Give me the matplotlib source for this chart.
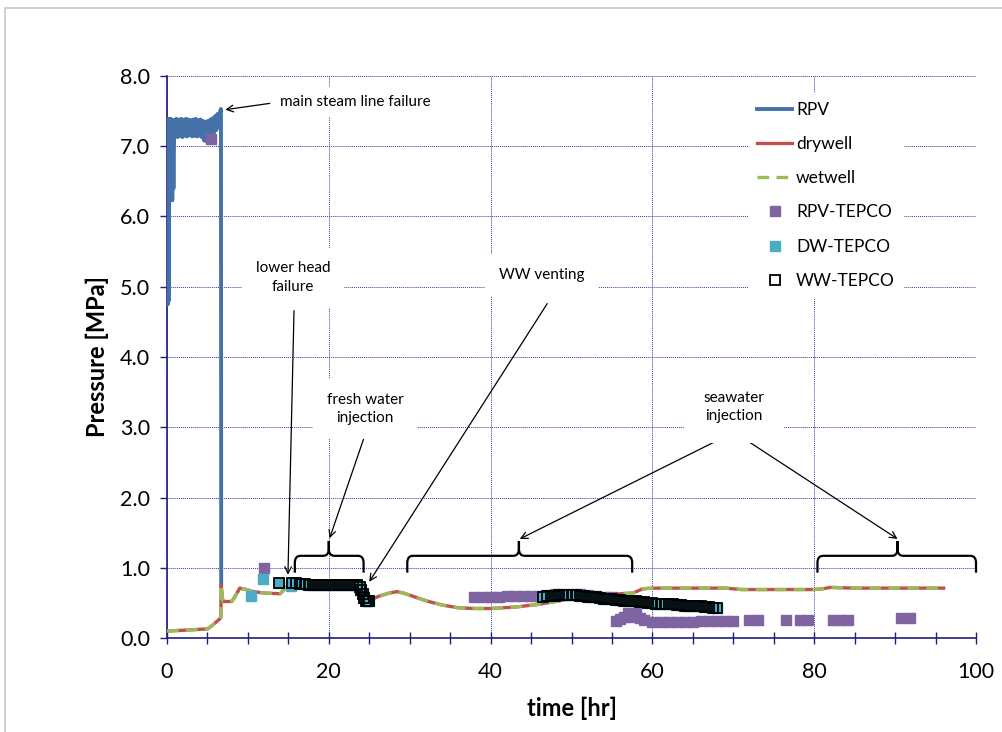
import matplotlib
matplotlib.use('Agg')
import matplotlib.pyplot as plt
from matplotlib.path import Path
from matplotlib.patches import PathPatch, Rectangle
from matplotlib.ticker import MultipleLocator, FormatStrFormatter

plt.rcParams['font.family'] = ['Lato', 'DejaVu Sans']

# ---- values ----
# RPV pressure (MELCOR run), time in hr, pressure in MPa
rpv_t = [0.05, 0.10, 0.15, 0.20, 0.25, 0.30, 0.40, 0.50, 0.60, 0.65, 0.70, 0.80, 0.90,
         1.00, 1.15, 1.30, 1.45, 1.60, 1.75, 1.90, 2.05, 2.20, 2.35, 2.50, 2.65,
         2.80, 2.95, 3.10, 3.25, 3.40, 3.55, 3.70, 3.85, 4.00, 4.15, 4.30, 4.45,
         4.60, 4.75, 4.90, 5.05, 5.20, 5.35, 5.50, 5.65, 5.80, 5.95, 6.10, 6.25,
         6.40, 6.55, 6.67, 6.70]
rpv_p = [7.32, 4.75, 7.39, 4.80, 7.38, 7.14, 7.39, 7.14, 7.38, 6.23, 7.32, 6.40, 7.37,
         7.14, 7.39, 7.13, 7.38, 7.15, 7.39, 7.13, 7.38, 7.15, 7.39, 7.14, 7.38,
         7.16, 7.37, 7.14, 7.38, 7.15, 7.39, 7.14, 7.37, 7.15, 7.38, 7.13, 7.36,
         7.08, 7.35, 7.07, 7.36, 7.14, 7.38, 7.16, 7.40, 7.19, 7.43, 7.23, 7.46,
         7.28, 7.49, 7.53, 0.76]

# drywell / wetwell pressure (they lie on top of each other)
dw_t = [0, 2, 5.0, 5.5, 6.0, 6.5, 6.65, 6.7, 6.9, 8.0, 8.4, 9.0, 9.8, 10.7, 12,
        14.0, 14.6, 15.2, 16, 18, 20, 22, 23.8, 24.2, 24.6, 25.1, 26.3, 27.5,
        28.4, 29.2, 30.0, 32, 34, 36, 38, 40, 43, 46, 48, 50, 52, 54, 56, 57.6,
        58.2, 58.8, 60, 65, 69, 70, 71, 75, 80, 81, 82, 85, 90, 96]
dw_p = [0.10, 0.11, 0.13, 0.17, 0.22, 0.27, 0.29, 0.75, 0.52, 0.52, 0.59, 0.71,
        0.69, 0.66, 0.64, 0.63, 0.71, 0.77, 0.77, 0.76, 0.76, 0.75, 0.75, 0.70,
        0.60, 0.54, 0.60, 0.64, 0.66, 0.64, 0.61, 0.53, 0.47, 0.43, 0.42, 0.42,
        0.44, 0.48, 0.52, 0.56, 0.59, 0.61, 0.63, 0.64, 0.67, 0.70, 0.71, 0.71,
        0.71, 0.70, 0.69, 0.69, 0.69, 0.70, 0.72, 0.71, 0.71, 0.71]
ww_t = list(dw_t)
ww_p = list(dw_p)

# TEPCO measurements
rpv_tepco_t = [5.4, 12.0,
               38, 39, 40, 41, 42, 43, 44, 45, 46, 47, 48, 49, 50, 51, 52, 53, 54, 55,
               55.5, 56, 56.5, 57, 57.5, 58, 58.5, 59, 60, 61, 62, 63, 64, 65, 66,
               67, 68, 69, 70, 72.0, 73.0, 76.5, 78.3, 79.2, 82.3, 83.3, 84.2,
               90.7, 91.8]
rpv_tepco_p = [7.11, 1.00,
               0.59, 0.59, 0.59, 0.59, 0.60, 0.60, 0.60, 0.60, 0.60, 0.61, 0.62,
               0.62, 0.62, 0.62, 0.61, 0.60, 0.59, 0.58,
               0.24, 0.27, 0.30, 0.35, 0.30, 0.35, 0.28, 0.25, 0.23, 0.23, 0.23,
               0.23, 0.23, 0.23, 0.24, 0.24, 0.24, 0.24, 0.24, 0.25, 0.25, 0.26,
               0.25, 0.25, 0.26, 0.26, 0.26, 0.28, 0.28]

ww_tepco_t = [13.8,
              15.5, 16.0, 16.5, 17.0, 17.5, 18.0, 18.5, 19.0, 19.5, 20.0, 20.5,
              21.0, 21.5, 22.0, 22.5, 23.0, 23.5, 23.8, 24.0, 24.2, 24.4, 24.6,
              24.8, 25.0,
              46.5, 47, 47.5, 48, 48.5, 49, 49.5, 50, 50.5, 51, 51.5, 52, 52.5,
              53, 53.5, 54, 54.5, 55, 55.5, 56, 56.5, 57, 57.5, 58, 58.5, 59,
              59.5, 60, 60.5, 61, 61.5, 62, 62.5, 63, 63.5, 64, 64.5, 65, 65.5,
              66, 66.5, 67, 67.5, 68]
ww_tepco_p = [0.78,
              0.79, 0.78, 0.77, 0.77, 0.76, 0.76, 0.75, 0.75, 0.75, 0.75, 0.75,
              0.75, 0.75, 0.75, 0.75, 0.75, 0.75, 0.73, 0.69, 0.63, 0.57, 0.53,
              0.52, 0.52,
              0.59, 0.60, 0.60, 0.60, 0.61, 0.61, 0.61, 0.61, 0.61, 0.60, 0.60,
              0.59, 0.58, 0.58, 0.57, 0.56, 0.56, 0.55, 0.54, 0.54, 0.53, 0.53,
              0.52, 0.52, 0.51, 0.51, 0.50, 0.50, 0.49, 0.49, 0.48, 0.48, 0.48,
              0.47, 0.47, 0.46, 0.46, 0.45, 0.45, 0.45, 0.44, 0.44, 0.43, 0.43]

# DW-TEPCO: two early points, the rest coincide with the WW readings
dw_tepco_t = [10.4, 11.9, 15.3] + ww_tepco_t
dw_tepco_p = [0.60, 0.84, 0.74] + ww_tepco_p

# curly braces marking injection periods: (start, end, tip)
brace_spans = [(15.8, 24.3, 20.0), (29.7, 57.5, 43.5), (80.4, 100.0, 90.3)]

NAVY = '#1f1f7a'

fig = plt.figure(figsize=(10.03, 7.32), dpi=100)
ax = fig.add_axes([0.1665, 0.1284, 0.8066, 0.7678])

ax.plot(rpv_t, rpv_p, color='#4472a8', lw=2.8, label='RPV', zorder=3)
ax.plot(dw_t, dw_p, color='#c0504d', lw=2.4, label='drywell', zorder=3)
ax.plot(ww_t, ww_p, color='#9bbb59', lw=2.4, ls=(0, (3.5, 2.2)), label='wetwell', zorder=3)
ax.plot(rpv_tepco_t, rpv_tepco_p, ls='none', marker='s', ms=6.5, color='#8064a2',
        mec='#8064a2', label='RPV-TEPCO', zorder=4)
ax.plot(dw_tepco_t, dw_tepco_p, ls='none', marker='s', ms=6.5, color='#4bacc6',
        mec='#4bacc6', label='DW-TEPCO', zorder=5)
ax.plot(ww_tepco_t, ww_tepco_p, ls='none', marker='s', ms=6.5, mfc='none',
        mec='black', mew=1.3, label='WW-TEPCO', zorder=6)

# braces
for x0, x1, xm in brace_spans:
    ye, ym, yt = 0.93, 1.17, 1.38
    rx, ry = 0.7, 0.1
    verts = [(x0, ye), (x0, ym - ry), (x0, ym), (x0 + rx, ym),
             (xm - rx, ym), (xm, ym), (xm, ym + ry), (xm, yt),
             (xm, ym + ry), (xm, ym), (xm + rx, ym),
             (x1 - rx, ym), (x1, ym), (x1, ym - ry), (x1, ye)]
    codes = [Path.MOVETO, Path.LINETO, Path.CURVE3, Path.CURVE3,
             Path.LINETO, Path.CURVE3, Path.CURVE3, Path.LINETO,
             Path.LINETO, Path.CURVE3, Path.CURVE3,
             Path.LINETO, Path.CURVE3, Path.CURVE3, Path.LINETO]
    ax.add_patch(PathPatch(Path(verts, codes), fill=False, ec='black', lw=1.6,
                           clip_on=False, zorder=4))

# annotations
box = dict(boxstyle='square,pad=0.9', fc='white', ec='none')
arrow = dict(arrowstyle='->', color='black', lw=0.9, shrinkA=0, shrinkB=0,
             mutation_scale=12)

ax.text(14.0, 7.63, 'main steam line failure', fontsize=11, ha='left', va='center',
        bbox=dict(boxstyle='square,pad=0.5', fc='white', ec='none'), zorder=5)
ax.annotate('', xy=(7.2, 7.52), xytext=(12.7, 7.61), arrowprops=arrow)

ax.text(15.6, 5.13, 'lower head\nfailure', fontsize=11, ha='center', va='center',
        linespacing=1.4, bbox=box, zorder=5)
ax.annotate('', xy=(14.95, 0.90), xytext=(15.7, 4.66), arrowprops=arrow)

ax.text(24.5, 3.26, 'fresh water\ninjection', fontsize=11, ha='center', va='center',
        linespacing=1.4, bbox=box, zorder=5)
ax.annotate('', xy=(20.1, 1.42), xytext=(24.5, 2.90), arrowprops=arrow)

ax.text(46.3, 5.17, 'WW venting', fontsize=11, ha='center', va='center',
        bbox=box, zorder=5)
ax.annotate('', xy=(25.0, 0.80), xytext=(47.0, 4.76), arrowprops=arrow)

ax.text(70.1, 3.29, 'seawater\ninjection', fontsize=11, ha='center', va='center',
        linespacing=1.4, bbox=dict(boxstyle='square,pad=1.3', fc='white', ec='none'),
        zorder=5)
ax.annotate('', xy=(43.6, 1.41), xytext=(70.1, 2.93), arrowprops=arrow)
ax.annotate('', xy=(90.3, 1.41), xytext=(70.1, 2.93), arrowprops=arrow)

# axes styling
ax.set_xlim(0, 100)
ax.set_ylim(0, 8)
ax.xaxis.set_major_locator(MultipleLocator(20))
ax.xaxis.set_minor_locator(MultipleLocator(5))
ax.yaxis.set_major_locator(MultipleLocator(1))
ax.yaxis.set_major_formatter(FormatStrFormatter('%.1f'))
ax.tick_params(axis='x', which='both', direction='inout', length=9, width=1,
               color=NAVY, labelsize=15.5, pad=13)
ax.tick_params(axis='y', which='major', direction='out', length=5, width=1,
               color=NAVY, labelsize=15.5, pad=7)
for s in ['top', 'right']:
    ax.spines[s].set_visible(False)
for s in ['left', 'bottom']:
    ax.spines[s].set_color(NAVY)
    ax.spines[s].set_linewidth(1.2)
ax.set_axisbelow(True)
ax.grid(True, which='major', color='#3a3a9a', ls=(0, (1, 1)), lw=0.7)

ax.set_xlabel('time [hr]', fontsize=17, fontweight='bold', labelpad=10)
ax.set_ylabel('Pressure [MPa]', fontsize=17, fontweight='bold', labelpad=8)

leg = ax.legend(loc='upper left', bbox_to_anchor=(0.708, 0.985), fontsize=12.5,
                frameon=True, fancybox=False, handlelength=2.0, handletextpad=0.25,
                labelspacing=1.05, borderpad=0.5, numpoints=1)
leg.get_frame().set_facecolor('white')
leg.get_frame().set_edgecolor('none')
leg.get_frame().set_alpha(1)

# light grey outer frame of the original figure
fig.patches.append(Rectangle((0.005, -0.05), 1.2, 0.989 + 0.05, transform=fig.transFigure,
                             fill=False, ec='#c8c8c8', lw=1.2))

fig.savefig('out.png', dpi=100)
